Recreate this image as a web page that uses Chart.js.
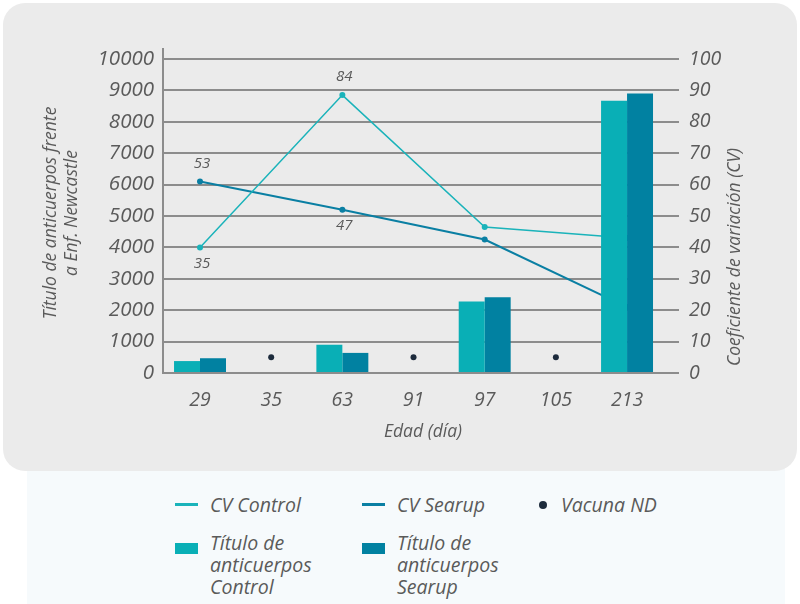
<!DOCTYPE html>
<html>
<head>
<meta charset="utf-8">
<script src="https://cdn.jsdelivr.net/npm/chart.js@4.4.0/dist/chart.umd.min.js"></script>
<style>
  body { margin: 0; width: 800px; height: 604px; background: #fff; position: relative; overflow: hidden; font-family: "Open Sans", sans-serif; }
  #legendBox { position: absolute; left: 27px; top: 440px; width: 758px; height: 164px; background: #f6fafc; }
  #panel { position: absolute; left: 3px; top: 3px; width: 794px; height: 468px; background: #ebebeb; border-radius: 22px; }
  #wrap { position: absolute; left: 0; top: 0; width: 800px; height: 470px; }
  .item { position: absolute; display: flex; align-items: flex-start; font-style: italic; font-weight: 400; font-size: 19.5px; line-height: 22px; color: #5a5a5a; white-space: pre-line; }
  .sym { flex: none; margin-right: 12px; }
</style>
</head>
<body>
<div id="legendBox"></div>
<div id="panel"></div>
<div id="wrap"><canvas id="myChart" width="800" height="470"></canvas></div>
<div id="legend"></div>
<script>
const ctx = document.getElementById('myChart');

// data
const days = ['29', '35', '63', '91', '97', '105', '213'];
const tituloControl = [380, null, 900, null, 2280, null, 8670];
const tituloSearup = [470, null, 640, null, 2410, null, 8900];
const cvControl = [40, null, 88.5, null, 46.5, null, 43];
const cvSearup = [61, null, 52, null, 42.5, null, 21];
const cvControlText = ['35', '', '84', '', '', '', ''];
const cvSearupText = ['53', '', '47', '', '', '', ''];
const vacunaND = [null, 500, null, 500, null, 500, null];
const legendText = ['CV Control', 'CV Searup', 'Vacuna ND', 'Título de\nanticuerpos\nControl', 'Título de\nanticuerpos\nSearup'];

const gray = '#8c8c8c';
const txt = '#5a5a5a';
const tickFont = { family: '"Open Sans"', size: 19.5, style: 'italic', weight: 400 };
const yTickFont = { family: '"Open Sans"', size: 20.5, style: 'italic', weight: 400 };

// axis titles, y axis stub and point labels
const extras = {
  id: 'extras',
  beforeDatasetsDraw(chart) {
    const c = chart.ctx, a = chart.chartArea;
    c.save();
    c.strokeStyle = gray;
    c.lineWidth = 2;
    c.beginPath();
    c.moveTo(a.left, a.top - 11);
    c.lineTo(a.left, a.top);
    c.stroke();
    c.restore();
  },
  afterDatasetsDraw(chart) {
    const c = chart.ctx;
    c.save();
    c.fillStyle = txt;
    c.textAlign = 'center';
    c.textBaseline = 'middle';
    c.font = 'italic 400 15px "Open Sans"';
    const pairs = [[2, cvControlText, cvControl, cvSearup], [3, cvSearupText, cvSearup, cvControl]];
    pairs.forEach(([idx, texts, own, other]) => {
      const meta = chart.getDatasetMeta(idx);
      texts.forEach((t, i) => {
        if (!t) return;
        const p = meta.data[i];
        const up = own[i] > other[i];
        c.fillText(t, p.x + 2, up ? p.y - 18 : p.y + 16);
      });
    });

    c.font = 'italic 400 17.5px "Open Sans"';
    c.fillText('Edad (día)', 423, 432);

    c.translate(51, 213);
    c.rotate(-Math.PI / 2);
    c.fillText('Título de anticuerpos frente', 0, 0);
    c.fillText('a Enf. Newcastle', 0, 21);
    c.setTransform(1, 0, 0, 1, 0, 0);

    c.translate(735, 257);
    c.rotate(-Math.PI / 2);
    c.fillText('Coeficiente de variación (CV)', 0, 0);
    c.restore();
  }
};

const chart = new Chart(ctx, {
  data: {
    labels: days,
    datasets: [
      { type: 'bar', label: 'Título de anticuerpos Control', data: tituloControl, backgroundColor: '#09afb6', yAxisID: 'y', order: 1 },
      { type: 'bar', label: 'Título de anticuerpos Searup', data: tituloSearup, backgroundColor: '#0181a1', yAxisID: 'y', order: 1 },
      { type: 'line', label: 'CV Control', data: cvControl, borderColor: '#1ab3ba', backgroundColor: '#1ab3ba', borderWidth: 1.5, pointRadius: 3, pointBorderWidth: 0, spanGaps: true, yAxisID: 'y1', order: 2 },
      { type: 'line', label: 'CV Searup', data: cvSearup, borderColor: '#0a7fa3', backgroundColor: '#0a7fa3', borderWidth: 2, pointRadius: 3, pointBorderWidth: 0, spanGaps: true, yAxisID: 'y1', order: 2 },
      { type: 'line', label: 'Vacuna ND', data: vacunaND, showLine: false, borderColor: '#1d2b3c', backgroundColor: '#1d2b3c', pointRadius: 3, pointBorderWidth: 0, yAxisID: 'y', order: 0 }
    ]
  },
  options: {
    responsive: false,
    animation: false,
    layout: { padding: { top: 59, left: 0, right: 0, bottom: 0 } },
    plugins: { legend: { display: false }, tooltip: { enabled: false } },
    datasets: { bar: { categoryPercentage: 0.73, barPercentage: 1 } },
    scales: {
      x: {
        grid: { display: false },
        border: { display: false },
        ticks: { font: tickFont, color: txt, padding: 8 },
        // the categories stop short of the right end of the grid
        afterBuildTicks(s) { s._startValue = -0.52; s._valueRange = 7.25; },
        afterFit(s) { s.height = 97; }
      },
      y: {
        position: 'left',
        min: 0, max: 10000,
        ticks: { stepSize: 1000, font: yTickFont, color: txt, padding: 9, callback: v => String(v) },
        grid: { color: gray, lineWidth: 2, drawTicks: false },
        border: { color: gray, width: 2 },
        afterFit(s) { s.width = 163; }
      },
      y1: {
        position: 'right',
        min: 0, max: 100,
        ticks: { stepSize: 10, font: tickFont, color: txt, padding: 2 },
        grid: { display: false },
        border: { display: false },
        afterFit(s) { s.width = 121; }
      }
    }
  },
  plugins: [extras]
});

// legend built from the chart's datasets
const legendOrder = [2, 3, 4, 0, 1];
const legendLeft = [175, 362, 539, 175, 362];
const legendTop = [494, 494, 494, 532, 532];
const legendEl = document.getElementById('legend');
legendOrder.forEach((di, k) => {
  const ds = chart.data.datasets[di];
  const item = document.createElement('div');
  item.className = 'item';
  item.style.left = legendLeft[k] + 'px';
  item.style.top = legendTop[k] + 'px';
  const sym = document.createElement('div');
  sym.className = 'sym';
  if (ds.type === 'bar') {
    sym.style.cssText = 'width:23px;height:11px;margin-top:11px;background:' + ds.backgroundColor;
  } else if (ds.showLine === false) {
    sym.style.cssText = 'width:8px;height:8px;border-radius:50%;margin-top:7px;margin-right:14px;background:' + ds.backgroundColor;
  } else {
    sym.style.cssText = 'width:23px;height:3px;margin-top:9px;background:' + ds.borderColor;
  }
  const label = document.createElement('div');
  label.textContent = legendText[k];
  item.appendChild(sym);
  item.appendChild(label);
  legendEl.appendChild(item);
});
</script>
</body>
</html>
